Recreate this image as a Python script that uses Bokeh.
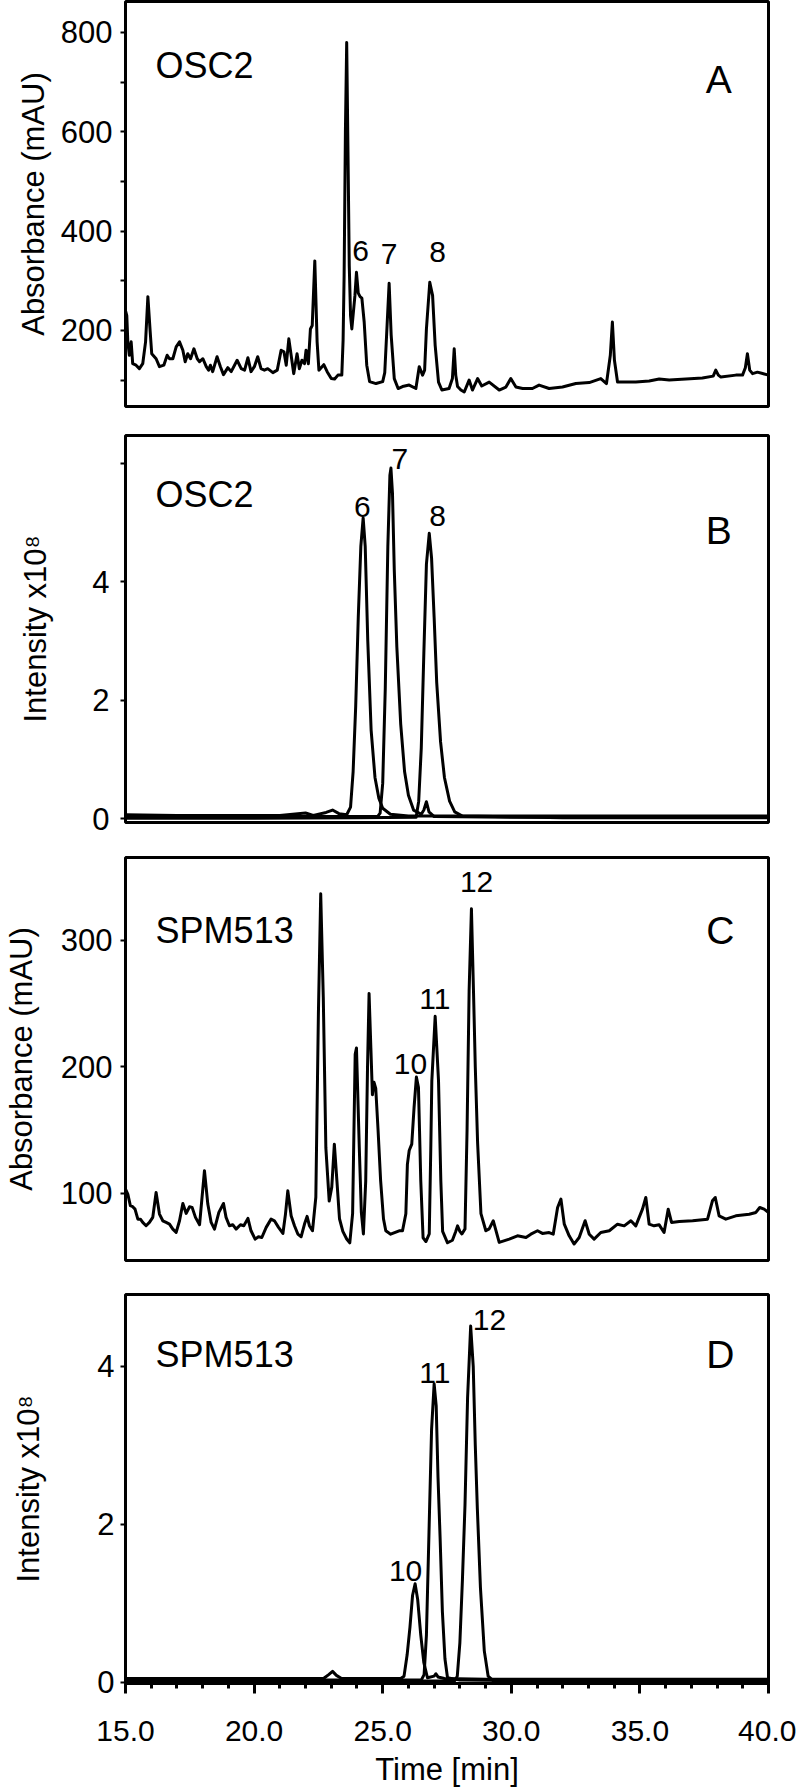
from bokeh.plotting import figure
from bokeh.layouts import column
from bokeh.models import Range1d, FixedTicker, Label, PrintfTickFormatter
from bokeh.embed import file_html
from bokeh.resources import INLINE

FONT = "Liberation Sans"

# ---------------- Panel A: UV trace, OSC2 (mAU) ----------------
time_A = [15.00, 15.05, 15.09, 15.15, 15.22, 15.28, 15.41, 15.54, 15.67, 15.78, 15.87, 15.96,
          16.02, 16.19, 16.32, 16.49, 16.62, 16.71, 16.84, 16.97, 17.10, 17.23, 17.32, 17.42,
          17.53, 17.66, 17.79, 17.88, 18.01, 18.14, 18.23, 18.30, 18.39, 18.56, 18.69, 18.81,
          18.98, 19.11, 19.34, 19.50, 19.63, 19.76, 19.88, 20.01, 20.14, 20.27, 20.40, 20.53,
          20.73, 20.90, 21.05, 21.16, 21.25, 21.35, 21.44, 21.54, 21.67, 21.76, 21.86, 21.96,
          22.02, 22.11, 22.19, 22.26, 22.36, 22.45, 22.52, 22.71, 22.84, 23.00, 23.13, 23.26,
          23.41, 23.46, 23.50, 23.55, 23.60, 23.65, 23.70, 23.75, 23.80, 23.92, 23.98, 24.05,
          24.12, 24.19, 24.28, 24.38, 24.49, 24.74, 25.00, 25.08, 25.17, 25.25, 25.33, 25.45,
          25.60, 25.77, 26.03, 26.29, 26.42, 26.55, 26.63, 26.70, 26.83, 26.94, 27.04, 27.17,
          27.30, 27.58, 27.71, 27.78, 27.84, 27.91, 28.04, 28.17, 28.36, 28.49, 28.69, 28.85,
          29.14, 29.53, 29.79, 29.98, 30.18, 30.44, 30.82, 31.08, 31.47, 31.99, 32.51, 33.03,
          33.48, 33.70, 33.85, 33.93, 34.01, 34.13, 34.84, 35.36, 35.75, 36.14, 36.79, 37.43,
          37.85, 37.95, 38.05, 38.15, 38.73, 38.99, 39.10, 39.18, 39.27, 39.38, 39.57, 40.00]
abs_A = [240, 230, 177, 150, 177, 133, 130, 123, 133, 177, 268, 197,
         153, 143, 127, 130, 150, 143, 143, 167, 177, 160, 137, 153,
         143, 163, 143, 137, 143, 127, 120, 130, 117, 147, 127, 111,
         125, 117, 140, 123, 120, 145, 117, 127, 147, 123, 120, 123,
         115, 120, 160, 157, 130, 183, 150, 113, 153, 123, 140, 133,
         160, 133, 203, 210, 340, 177, 120, 131, 117, 103, 102, 110,
         110, 180, 310, 600, 780, 560, 330, 230, 203, 270, 317, 275,
         268, 265, 217, 130, 97, 93, 97, 115, 210, 295, 190, 103,
         83, 87, 90, 83, 127, 110, 120, 203, 297, 270, 170, 96,
         80, 83, 103, 163, 110, 87, 80, 76, 100, 80, 103, 88,
         96, 80, 86, 103, 86, 83, 83, 90, 83, 86, 93, 95,
         103, 93, 150, 217, 140, 96, 96, 98, 102, 100, 102, 104,
         108, 120, 110, 106, 110, 110, 125, 153, 120, 113, 116, 110]
peak_text_A = ["6", "7", "8"]
peak_time_A = [24.14, 25.25, 27.13]
peak_val_A = [360, 353, 357]

# ---------------- Panel B: EIC traces, OSC2 (x1e8) ----------------
time_B6 = [15.0, 17.0, 19.0, 21.0, 22.0, 22.3, 22.8, 23.05, 23.3, 23.6, 23.75, 23.85, 23.95,
           24.05, 24.15, 24.24, 24.32, 24.42, 24.55, 24.7, 24.85, 25.0, 25.3, 26.0, 28.0, 30.0, 35.0, 40.0]
int_B6 = [0.07, 0.06, 0.06, 0.06, 0.10, 0.06, 0.11, 0.15, 0.09, 0.07, 0.2, 0.8, 1.9,
          3.4, 4.6, 5.08, 4.6, 3.0, 1.5, 0.7, 0.35, 0.18, 0.08, 0.05, 0.05, 0.05, 0.05, 0.05]
time_B7 = [15.0, 18.0, 21.0, 24.0, 24.8, 24.9, 25.0, 25.1, 25.2, 25.28, 25.32, 25.38, 25.45,
           25.55, 25.7, 25.85, 26.0, 26.2, 26.5, 26.6, 26.7, 26.8, 27.0, 30.0, 35.0, 40.0]
int_B7 = [0.03, 0.03, 0.04, 0.04, 0.04, 0.1, 0.6, 2.2, 4.6, 5.8, 5.92, 5.5, 4.2,
          2.9, 1.6, 0.8, 0.4, 0.15, 0.08, 0.15, 0.29, 0.12, 0.04, 0.03, 0.03, 0.03]
time_B8 = [15.0, 20.0, 24.0, 26.3, 26.4, 26.5, 26.6, 26.7, 26.81, 26.9, 27.0, 27.1, 27.25,
           27.4, 27.6, 27.8, 28.1, 32.0, 36.0, 40.0]
int_B8 = [0.01, 0.01, 0.02, 0.03, 0.3, 1.2, 2.8, 4.3, 4.82, 4.4, 3.4, 2.3, 1.3,
          0.7, 0.3, 0.12, 0.05, 0.02, 0.02, 0.02]
peak_text_B = ["6", "7", "8"]
peak_time_B = [24.21, 25.67, 27.13]
peak_val_B = [5.27, 6.07, 5.12]

# ---------------- Panel C: UV trace, SPM513 (mAU) ----------------
time_C = [15.00, 15.09, 15.19, 15.28, 15.37, 15.48, 15.58, 15.67, 15.80, 15.93, 16.06, 16.19,
          16.32, 16.45, 16.58, 16.71, 16.84, 16.97, 17.10, 17.23, 17.36, 17.49, 17.59, 17.72,
          17.88, 18.07, 18.20, 18.33, 18.46, 18.63, 18.81, 18.91, 19.04, 19.17, 19.30, 19.47,
          19.60, 19.76, 19.88, 20.04, 20.17, 20.30, 20.47, 20.66, 20.79, 20.95, 21.12, 21.22,
          21.31, 21.44, 21.57, 21.70, 21.83, 21.96, 22.06, 22.15, 22.27, 22.40, 22.50, 22.59,
          22.69, 22.79, 22.92, 23.02, 23.12, 23.22, 23.32, 23.45, 23.60, 23.72, 23.83, 23.93,
          23.98, 24.09, 24.17, 24.25, 24.34, 24.41, 24.47, 24.54, 24.60, 24.66, 24.73, 24.82,
          24.92, 25.03, 25.12, 25.31, 25.64, 25.77, 25.90, 25.96, 26.03, 26.13, 26.22, 26.31,
          26.39, 26.48, 26.57, 26.68, 26.81, 26.87, 26.91, 27.04, 27.17, 27.26, 27.33, 27.52,
          27.71, 27.84, 27.91, 28.00, 28.08, 28.20, 28.28, 28.36, 28.45, 28.53, 28.60, 28.69,
          28.82, 29.01, 29.14, 29.30, 29.53, 29.92, 30.24, 30.57, 30.76, 31.02, 31.21, 31.47,
          31.63, 31.80, 31.93, 32.06, 32.25, 32.44, 32.64, 32.87, 33.03, 33.22, 33.48, 33.81,
          34.13, 34.39, 34.65, 34.84, 35.10, 35.23, 35.36, 35.55, 35.75, 35.94, 36.10, 36.23,
          36.53, 37.05, 37.63, 37.82, 37.93, 38.08, 38.34, 38.73, 39.25, 39.51, 39.66, 39.83, 40.00]
abs_C = [103.5, 99.5, 90.3, 89.5, 87.6, 79.7, 79.7, 77.1, 74.5, 77.1, 81.1, 100.8,
         83.7, 78.4, 77.1, 75.8, 71.8, 69.2, 78.4, 92.1, 84.2, 89.5, 89.0, 81.1,
         75.3, 118, 91.6, 77.1, 71.8, 85.0, 92.1, 81.1, 74.5, 75.3, 71.8, 75.3,
         74.5, 80.3, 70.5, 63.9, 65.8, 65.2, 73.2, 79.7, 78.4, 73.2, 68.4, 83.7,
         102.1, 82.4, 74.5, 67.9, 65.8, 75.8, 81.9, 74.5, 70.5, 97, 242, 337,
         255, 136, 94, 105, 139, 110, 80, 70, 64, 61, 84, 210,
         215, 136, 85, 68, 110, 200, 258, 215, 178, 188, 183, 150,
         110, 80, 70.5, 67.8, 70.5, 70.5, 84, 123, 134, 139, 168, 192,
         184, 110, 65, 62, 68, 136, 189, 240, 189, 110, 70, 61,
         63, 70, 74.4, 70, 68, 72, 150, 260, 325, 260, 200, 140,
         84, 70.5, 72, 78.4, 61.3, 63.9, 66.5, 65.2, 67.8, 70.5, 68.4, 69.1,
         67.8, 88.9, 95.5, 75.7, 66.5, 60, 65.2, 78.4, 67.8, 63.9, 69.1, 70.5,
         75.7, 74.4, 78.4, 74.4, 87.6, 96.8, 75.7, 74.4, 75.2, 69.1, 87.6, 77.1,
         77.9, 78.4, 79.7, 94.2, 96.8, 82.3, 79.7, 82.3, 83.6, 85.0, 88.9, 87.6, 85.0]
peak_text_C = ["10", "11", "12"]
peak_time_C = [26.08, 27.03, 28.65]
peak_val_C = [202, 254, 346]

# ---------------- Panel D: EIC traces, SPM513 (x1e8) ----------------
time_D10 = [15.0, 20.0, 22.7, 22.9, 23.05, 23.2, 23.4, 25.7, 25.83, 25.95, 26.06, 26.16, 26.26,
            26.36, 26.48, 26.6, 26.74, 27.0, 27.07, 27.15, 27.4, 29.0, 35.0, 40.0]
int_D10 = [0.05, 0.05, 0.05, 0.1, 0.14, 0.09, 0.05, 0.05, 0.08, 0.35, 0.7, 1.1, 1.25,
           1.05, 0.6, 0.25, 0.06, 0.08, 0.11, 0.07, 0.05, 0.04, 0.04, 0.04]
time_D11 = [15.0, 20.0, 25.0, 26.5, 26.61, 26.7, 26.8, 26.9, 27.0, 27.08, 27.15, 27.23, 27.32,
            27.42, 27.52, 28.0, 33.0, 40.0]
int_D11 = [0.03, 0.03, 0.03, 0.03, 0.1, 0.6, 1.9, 3.2, 3.78, 3.5, 2.6, 1.85, 0.9,
           0.3, 0.06, 0.03, 0.02, 0.02]
time_D12 = [15.0, 21.0, 26.0, 27.8, 27.9, 28.0, 28.1, 28.2, 28.3, 28.42, 28.52, 28.6, 28.68,
            28.8, 28.95, 29.1, 29.3, 34.0, 40.0]
int_D12 = [0.01, 0.01, 0.02, 0.02, 0.08, 0.5, 1.3, 2.25, 3.6, 4.51, 4.0, 3.0, 2.2,
           1.2, 0.4, 0.08, 0.02, 0.01, 0.01]
peak_text_D = ["10", "11", "12"]
peak_time_D = [25.89, 27.03, 29.15]
peak_val_D = [1.41, 3.92, 4.59]

sample_names = ["OSC2", "OSC2", "SPM513", "SPM513"]
panel_letters = ["A", "B", "C", "D"]
name_val = [734, 5.47, 308, 4.15]
letter_time = [38.07, 38.07, 38.13, 38.13]
letter_val = [705, 4.86, 308, 4.15]

X_TICKS = [15, 20, 25, 30, 35, 40]
X_MINOR = list(range(15, 41))


def make_panel(frame_h, yr, top, bottom, show_x, yticks, yminor, ylabel, label_standoff,
               tick_standoff, overrides=None):
    p = figure(frame_width=643, frame_height=frame_h, min_border_left=123, min_border_right=30,
               min_border_top=top, min_border_bottom=bottom,
               x_range=Range1d(15, 40), y_range=Range1d(*yr),
               x_axis_location="below" if show_x else None,
               output_backend="svg", toolbar_location=None, title=None)
    p.grid.visible = False
    p.outline_line_color = "black"
    p.outline_line_width = 3
    p.outline_line_alpha = 1
    p.background_fill_color = "white"
    p.border_fill_color = "white"
    ax = p.yaxis[0]
    ax.ticker = FixedTicker(ticks=yticks, minor_ticks=yminor)
    if overrides:
        ax.major_label_overrides = overrides
    ax.axis_line_color = None
    ax.major_tick_in = 0
    ax.major_tick_out = 5
    ax.minor_tick_in = 0
    ax.minor_tick_out = 5
    ax.major_tick_line_width = 2
    ax.minor_tick_line_width = 2
    ax.major_label_text_font = FONT
    ax.major_label_text_font_size = "31px"
    ax.major_label_text_color = "black"
    ax.major_label_standoff = tick_standoff
    ax.axis_label = ylabel
    ax.axis_label_text_font = FONT
    ax.axis_label_text_font_size = "31px"
    ax.axis_label_text_font_style = "normal"
    ax.axis_label_text_color = "black"
    ax.axis_label_standoff = label_standoff
    if show_x:
        xa = p.xaxis[0]
        xa.ticker = FixedTicker(ticks=X_TICKS, minor_ticks=X_MINOR)
        xa.formatter = PrintfTickFormatter(format="%.1f")
        xa.axis_line_color = None
        xa.major_tick_in = 0
        xa.major_tick_out = 10
        xa.minor_tick_in = 0
        xa.minor_tick_out = 5
        xa.major_tick_line_width = 3
        xa.minor_tick_line_width = 3
        xa.major_label_text_font = FONT
        xa.major_label_text_font_size = "30px"
        xa.major_label_text_color = "black"
        xa.major_label_standoff = 27
        xa.axis_label = "Time [min]"
        xa.axis_label_text_font = FONT
        xa.axis_label_text_font_size = "31px"
        xa.axis_label_text_font_style = "normal"
        xa.axis_label_text_color = "black"
        xa.axis_label_standoff = 8
    return p


def add_texts(p, texts, xs, ys, size):
    for t, x, y in zip(texts, xs, ys):
        p.add_layout(Label(x=x, y=y, text=t, text_align="center", text_baseline="middle",
                           text_font=FONT, text_font_size=size, text_color="black"))


def add_name_letter(p, i):
    p.add_layout(Label(x=16.17, y=name_val[i], text=sample_names[i], text_align="left",
                       text_baseline="middle", text_font=FONT, text_font_size="36px",
                       text_color="black"))
    p.add_layout(Label(x=letter_time[i], y=letter_val[i], text=panel_letters[i], text_align="center",
                       text_baseline="middle", text_font=FONT, text_font_size="39px",
                       text_color="black"))


LW = 3

# Panel A
pA = make_panel(405, (46.8, 862.4), 1, 14, False, [200, 400, 600, 800], [100, 300, 500, 700],
                "Absorbance (mAU)", 7, 8)
pA.line(time_A, abs_A, line_color="black", line_width=LW, line_join="round")
add_texts(pA, peak_text_A, peak_time_A, peak_val_A, "30px")
add_name_letter(pA, 0)

# Panel B
pB = make_panel(387, (-0.06, 6.47), 15, 17, False, [0, 2, 4, 6], [], "Intensity x10\u2078", 36, 11,
                overrides={6: ""})
for tt, vv in ((time_B6, int_B6), (time_B7, int_B7), (time_B8, int_B8)):
    pB.line(tt, vv, line_color="black", line_width=LW, line_join="round")
add_texts(pB, peak_text_B, peak_time_B, peak_val_B, "30px")
add_name_letter(pB, 1)

# Panel C
pC = make_panel(403, (47.0, 365.6), 18, 17, False, [100, 200, 300], [], "Absorbance (mAU)", 19, 8)
pC.line(time_C, abs_C, line_color="black", line_width=LW, line_join="round")
add_texts(pC, peak_text_C, peak_time_C, peak_val_C, "30px")
add_name_letter(pC, 2)

# Panel D
pD = make_panel(389, (-0.013, 4.91), 17, 80, True, [0, 2, 4], [], "Intensity x10\u2078", 48, 6)
for tt, vv in ((time_D10, int_D10), (time_D11, int_D11), (time_D12, int_D12)):
    pD.line(tt, vv, line_color="black", line_width=LW, line_join="round")
add_texts(pD, peak_text_D, peak_time_D, peak_val_D, "30px")
add_name_letter(pD, 3)

layout = column(pA, pB, pC, pD, spacing=0)
open("out.html", "w").write(file_html(layout, INLINE))
